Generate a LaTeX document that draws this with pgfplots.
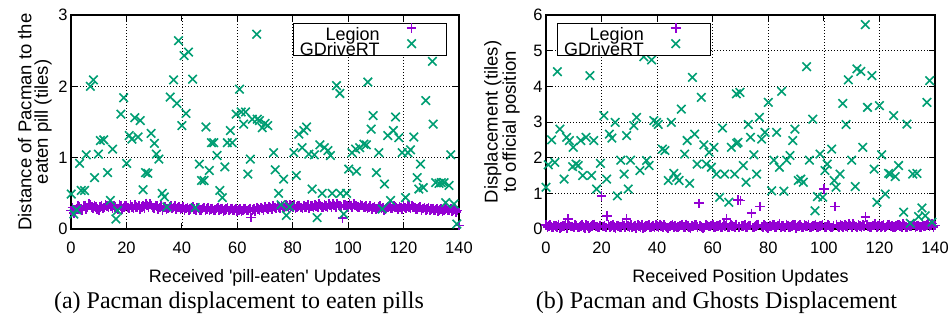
\documentclass[border=0pt]{standalone}
\usepackage{fontspec}
\setmainfont{Liberation Serif}
\newfontfamily\axisfont{Liberation Sans}
\usepackage{pgfplots}
\pgfplotsset{compat=1.18}
\definecolor{legion}{RGB}{148,0,211}
\definecolor{gdrive}{RGB}{0,158,115}
\newcommand\legfont{\axisfont\fontsize{18}{18}\selectfont}
\pgfplotsset{
  gp/.style={
    scale only axis,
    xmin=0, xmax=140,
    xtick={0,20,...,140},
    tick align=inside, tick pos=both,
    major tick length=6pt,
    axis line style={line width=1.2pt},
    every tick/.style={black,line width=0.8pt},
    grid=major,
    grid style={black,line width=0.6pt,dash pattern=on 0.6pt off 2.4pt},
    /pgf/number format/assume math mode=true,
    ticklabel style={font=\axisfont\fontsize{16.5}{17}\selectfont},
    xticklabel style={anchor=base,yshift=-25pt},
    every axis x label/.style={at={(axis description cs:0.5,-0.249)},anchor=base,font=\axisfont\fontsize{18}{18}\selectfont},
    legend plot pos=right,
    legend cell align=right,
    legend image code/.code={\path[draw=none,fill=none] (0pt,0pt) rectangle (56pt,10pt);\draw[#1,only marks] plot coordinates {(28pt,5pt)};},
    legend style={draw=black,line width=0.8pt,inner xsep=7pt,inner ysep=0pt,row sep=-1.4pt,column sep=4pt,
      font=\legfont,
      nodes={inner sep=0pt,text height=14pt,text depth=0pt}},
  },
  legionstyle/.style={only marks,mark=+,mark size=4.8pt,legion,mark options={line width=1.7pt}},
  gdrivestyle/.style={only marks,mark=x,mark size=6pt,gdrive,mark options={line width=1.6pt}},
}
\begin{document}
\begin{tikzpicture}
\useasboundingbox (0,0) rectangle (949pt,320pt);
% ---------------- (a) ----------------
\begin{axis}[gp,
  at={(71pt,91pt)}, anchor=south west,
  width=388pt, height=214pt,
  ymin=0, ymax=3, ytick={0,1,2,3},
  xlabel={Received 'pill-eaten' Updates},
  ylabel={Distance of Pacman to the\\eaten pill (tiles)},
  every axis y label/.style={at={(axis description cs:-0.049,0.5)},rotate=90,anchor=south,align=center,inner sep=0pt,font=\axisfont\fontsize{18.5}{16.5}\selectfont},
  legend style={at={(axis description cs:1,1)},anchor=north east,xshift=-12pt,yshift=-7.7pt},
]
\addplot[legionstyle] coordinates {
(0,0.26)(1,0.22)(2,0.28)(3,0.31)(4,0.27)(5,0.33)(6,0.30)(7,0.34)(8,0.29)(9,0.31)
(10,0.27)(11,0.33)(12,0.30)(13,0.32)(14,0.35)(15,0.29)(16,0.31)(17,0.28)(18,0.32)(19,0.30)
(20,0.33)(21,0.29)(22,0.31)(23,0.34)(24,0.30)(25,0.28)(26,0.32)(27,0.36)(28,0.31)(29,0.33)
(30,0.29)(31,0.32)(32,0.30)(33,0.27)(34,0.31)(35,0.29)(36,0.32)(37,0.30)(38,0.28)(39,0.31)
(40,0.29)(41,0.27)(42,0.30)(43,0.28)(44,0.31)(45,0.26)(46,0.29)(47,0.27)(48,0.30)(49,0.28)
(50,0.26)(51,0.29)(52,0.27)(53,0.30)(54,0.28)(55,0.25)(56,0.28)(57,0.26)(58,0.29)(59,0.27)
(60,0.25)(61,0.28)(62,0.26)(63,0.29)(64,0.27)(65,0.16)(66,0.28)(67,0.30)(68,0.27)(69,0.29)
(70,0.31)(71,0.28)(72,0.30)(73,0.32)(74,0.29)(75,0.31)(76,0.33)(77,0.30)(78,0.32)(79,0.34)
(80,0.31)(81,0.29)(82,0.32)(83,0.30)(84,0.33)(85,0.31)(86,0.29)(87,0.32)(88,0.34)(89,0.31)
(90,0.33)(91,0.30)(92,0.32)(93,0.35)(94,0.31)(95,0.33)(96,0.36)(97,0.32)(98,0.15)(99,0.34)
(100,0.31)(101,0.33)(102,0.35)(103,0.32)(104,0.30)(105,0.33)(106,0.31)(107,0.29)(108,0.32)(109,0.30)
(110,0.28)(111,0.31)(112,0.29)(113,0.27)(114,0.30)(115,0.32)(116,0.29)(117,0.31)(118,0.28)(119,0.30)
(120,0.32)(121,0.29)(122,0.31)(123,0.33)(124,0.30)(125,0.28)(126,0.31)(127,0.29)(128,0.27)(129,0.30)
(130,0.28)(131,0.26)(132,0.29)(133,0.27)(134,0.25)(135,0.28)(136,0.26)(137,0.29)(138,0.27)(139,0.24)
(140,0.05)
(0.5,0.30)(1.5,0.27)(2.5,0.33)(3.5,0.29)(4.5,0.32)(5.5,0.28)(6.5,0.35)(7.5,0.31)(8.5,0.33)(9.5,0.28)
(10.5,0.31)(11.5,0.29)(12.5,0.34)(13.5,0.30)(14.5,0.32)(15.5,0.33)(16.5,0.29)(17.5,0.34)(18.5,0.28)(19.5,0.32)
(20.5,0.30)(21.5,0.34)(22.5,0.29)(23.5,0.31)(24.5,0.33)(25.5,0.31)(26.5,0.29)(27.5,0.33)(28.5,0.35)(29.5,0.30)
(30.5,0.33)(31.5,0.28)(32.5,0.32)(33.5,0.30)(34.5,0.28)(35.5,0.31)(36.5,0.29)(37.5,0.32)(38.5,0.30)(39.5,0.28)
(40.5,0.31)(41.5,0.29)(42.5,0.27)(43.5,0.30)(44.5,0.28)(45.5,0.30)(46.5,0.27)(47.5,0.29)(48.5,0.26)(49.5,0.30)
(50.5,0.28)(51.5,0.26)(52.5,0.29)(53.5,0.27)(54.5,0.29)(55.5,0.27)(56.5,0.30)(57.5,0.28)(58.5,0.26)(59.5,0.29)
(60.5,0.27)(61.5,0.25)(62.5,0.28)(63.5,0.26)(64.5,0.29)(65.5,0.27)(66.5,0.25)(67.5,0.28)(68.5,0.30)(69.5,0.27)
(70.5,0.29)(71.5,0.31)(72.5,0.28)(73.5,0.30)(74.5,0.33)(75.5,0.29)(76.5,0.31)(77.5,0.34)(78.5,0.30)(79.5,0.32)
(80.5,0.34)(81.5,0.31)(82.5,0.33)(83.5,0.29)(84.5,0.31)(85.5,0.34)(86.5,0.32)(87.5,0.30)(88.5,0.32)(89.5,0.35)
(90.5,0.31)(91.5,0.34)(92.5,0.30)(93.5,0.33)(94.5,0.35)(95.5,0.31)(96.5,0.33)(97.5,0.30)(98.5,0.34)(99.5,0.32)
(100.5,0.35)(101.5,0.30)(102.5,0.33)(103.5,0.31)(104.5,0.34)(105.5,0.30)(106.5,0.32)(107.5,0.30)(108.5,0.28)(109.5,0.31)
(110.5,0.29)(111.5,0.32)(112.5,0.30)(113.5,0.28)(114.5,0.31)(115.5,0.29)(116.5,0.32)(117.5,0.30)(118.5,0.31)(119.5,0.28)
(120.5,0.30)(121.5,0.32)(122.5,0.29)(123.5,0.31)(124.5,0.28)(125.5,0.30)(126.5,0.27)(127.5,0.30)(128.5,0.28)(129.5,0.26)
(130.5,0.29)(131.5,0.27)(132.5,0.25)(133.5,0.28)(134.5,0.26)(135.5,0.29)(136.5,0.27)(137.5,0.25)(138.5,0.28)(139.5,0.26)
};
\addlegendentry{Legion}
\addplot[gdrivestyle] coordinates {
(0.1,0.49)(1,0.21)(2,0.27)(3.1,0.92)(3.7,0.54)(4.9,0.54)(5.5,1.04)(7.0,2.0)(8.1,2.09)(8.5,0.72)
(9.9,1.05)(10.6,1.24)(11.8,1.25)(13.2,0.79)(14.2,0.40)(15,1.12)(16.2,0.14)(16.8,0.26)(18,1.61)(19,1.84)
(20.1,0.92)(21,1.31)(22,1.26)(23,1.56)(24.2,1.29)(25,1.52)(26,0.55)(26.9,0.79)(27.7,0.78)(28.9,1.34)
(30.1,1.20)(30.8,1.05)(31.7,0.98)(32.9,0.50)(33.7,0.45)(34.6,0.31)(35.8,1.85)(37,2.09)(38.2,1.76)(38.8,2.64)
(40,1.45)(40.8,2.43)(42.4,2.48)(41.5,1.62)(43.9,2.10)(44.8,0.30)(46.3,0.91)(47.1,0.68)(48,0.68)(48.7,1.43)
(49.9,0.82)(50.7,1.21)(51.5,1.21)(52.7,1.03)(53.7,0.54)(54.6,0.44)(55.5,0.87)(56.4,1.21)(57.5,1.38)(58.2,1.21)
(59.6,1.61)(60.8,1.96)(61.4,1.64)(62.3,1.47)(63,1.64)(63.8,0.77)(64.7,0.98)(65.4,1.54)(67,2.73)(67.2,1.54)
(68,1.52)(69,1.42)(70,1.48)(71,1.45)(73.1,1.07)(73.7,0.83)(74.9,0.50)(75.8,0.34)(76.7,0.70)(77.7,0.19)
(78.9,0.31)(80.4,1.07)(81.3,0.75)(82.2,1.33)(83.4,1.14)(84,1.38)(85,1.43)(85.8,1.05)(87,0.56)(87.8,1.04)
(88.8,0.16)(89.8,1.18)(90.6,0.50)(91.4,1.14)(92.7,1.10)(93.6,1.03)(94.2,0.50)(95.8,2.01)(97,1.90)(97.2,0.50)
(98.4,0.21)(99.4,0.50)(100.2,0.84)(101.4,1.07)(102.7,1.12)(103,0.81)(104.2,1.14)(105.7,1.19)(106.6,1.18)(107.1,2.06)
(108.3,1.40)(109,1.59)(110.2,0.79)(111.1,1.07)(112.3,0.28)(113.1,0.63)(114.3,1.31)(115.3,0.40)(116.3,1.38)(117.1,1.57)
(118.3,1.28)(119.5,1.07)(120.7,0.44)(121.6,1.07)(122.5,1.11)(123.7,1.29)(124.9,0.72)(125.5,0.56)(126.1,0.91)(127.1,0.58)
(128,1.80)(129.2,2.80)(130.4,2.35)(130.7,1.47)(131.6,0.65)(132.8,0.64)(133.6,0.65)(134.6,0.65)(135.2,0.37)(136.4,0.61)
(137,1.04)(138.2,0.35)(139.2,0.07)(140.4,0.93)
};
\addlegendentry{GDriveRT}
\end{axis}
% ---------------- (b) ----------------
\begin{axis}[gp,
  at={(546pt,91pt)}, anchor=south west,
  width=389pt, height=214pt,
  ymin=0, ymax=6, ytick={0,1,...,6},
  xlabel={Received Position Updates},
  ylabel={Displacement (tiles)\\to official position},
  every axis y label/.style={at={(axis description cs:-0.0668,0.5)},rotate=90,anchor=south,align=center,inner sep=0pt,font=\axisfont\fontsize{18.5}{16.5}\selectfont},
  legend style={at={(axis description cs:0,1)},anchor=north west,xshift=10.7pt,yshift=-7.7pt},
]
\addplot[legionstyle] coordinates {
(0,0.12)(1,0.08)(2,0.05)(3,0.10)(4,0.06)(5,0.03)(6,0.09)(7,0.13)(8,0.28)(9,0.07)
(10,0.04)(11,0.10)(12,0.06)(13,0.12)(14,0.03)(15,0.08)(16,0.05)(17,0.11)(18,0.07)(19,0.04)
(20,0.93)(21,0.09)(22,0.37)(23,0.06)(24,0.12)(25,0.03)(26,0.08)(27,0.05)(28,0.10)(29,0.28)
(30,0.06)(31,0.04)(32,0.09)(33,0.12)(34,0.05)(35,0.03)(36,0.08)(37,0.11)(38,0.06)(39,0.04)
(40,0.09)(41,0.13)(42,0.05)(43,0.07)(44,0.03)(45,0.10)(46,0.06)(47,0.04)(48,0.08)(49,0.12)
(50,0.05)(51,0.09)(52,0.03)(53,0.07)(54,0.11)(55,0.72)(56,0.06)(57,0.04)(58,0.10)(59,0.07)
(60,0.13)(61,0.05)(62,0.08)(63,0.04)(64,0.11)(65,0.28)(66,0.06)(67,0.09)(68,0.05)(69,0.81)
(70,0.80)(71,0.08)(72,0.04)(73,0.10)(74,0.44)(75,0.06)(76,0.12)(77,0.63)(78,0.05)(79,0.09)
(80,0.03)(81,0.07)(82,0.11)(83,0.05)(84,0.14)(85,0.08)(86,0.04)(87,0.10)(88,0.06)(89,0.12)
(90,0.03)(91,0.08)(92,0.05)(93,0.11)(94,0.07)(95,0.04)(96,0.09)(97,0.13)(98,0.06)(99,0.10)
(100,1.12)(101,0.05)(102,0.08)(103,0.04)(104,0.63)(105,0.07)(106,0.11)(107,0.05)(108,0.09)(109,0.14)
(110,0.06)(111,0.10)(112,0.04)(113,0.08)(114,0.12)(115,0.33)(116,0.07)(117,0.05)(118,0.10)(119,0.06)
(120,0.13)(121,0.08)(122,0.04)(123,0.11)(124,0.07)(125,0.05)(126,0.09)(127,0.12)(128,0.06)(129,0.10)
(130,0.04)(131,0.08)(132,0.13)(133,0.06)(134,0.10)(135,0.05)(136,0.09)(137,0.12)(138,0.07)(139,0.15)
(140,0.10)
(0.5,0.06)(1.5,0.11)(2.5,0.04)(3.5,0.08)(4.5,0.13)(5.5,0.05)(6.5,0.09)(7.5,0.03)(8.5,0.10)(9.5,0.07)
(10.5,0.12)(11.5,0.04)(12.5,0.09)(13.5,0.06)(14.5,0.11)(15.5,0.03)(16.5,0.08)(17.5,0.13)(18.5,0.05)(19.5,0.10)
(20.5,0.07)(21.5,0.04)(22.5,0.12)(23.5,0.08)(24.5,0.05)(25.5,0.10)(26.5,0.06)(27.5,0.13)(28.5,0.04)(29.5,0.09)
(30.5,0.11)(31.5,0.07)(32.5,0.03)(33.5,0.08)(34.5,0.12)(35.5,0.06)(36.5,0.10)(37.5,0.04)(38.5,0.09)(39.5,0.13)
(40.5,0.05)(41.5,0.08)(42.5,0.11)(43.5,0.04)(44.5,0.07)(45.5,0.12)(46.5,0.09)(47.5,0.05)(48.5,0.10)(49.5,0.06)
(50.5,0.13)(51.5,0.04)(52.5,0.08)(53.5,0.11)(54.5,0.06)(55.5,0.09)(56.5,0.03)(57.5,0.12)(58.5,0.07)(59.5,0.10)
(60.5,0.05)(61.5,0.09)(62.5,0.12)(63.5,0.06)(64.5,0.08)(65.5,0.04)(66.5,0.11)(67.5,0.07)(68.5,0.13)(69.5,0.05)
(70.5,0.09)(71.5,0.12)(72.5,0.06)(73.5,0.10)(74.5,0.04)(75.5,0.08)(76.5,0.13)(77.5,0.07)(78.5,0.11)(79.5,0.05)
(80.5,0.09)(81.5,0.12)(82.5,0.06)(83.5,0.10)(84.5,0.04)(85.5,0.08)(86.5,0.13)(87.5,0.05)(88.5,0.09)(89.5,0.11)
(90.5,0.07)(91.5,0.12)(92.5,0.04)(93.5,0.09)(94.5,0.13)(95.5,0.06)(96.5,0.10)(97.5,0.05)(98.5,0.08)(99.5,0.12)
(100.5,0.06)(101.5,0.11)(102.5,0.04)(103.5,0.09)(104.5,0.13)(105.5,0.05)(106.5,0.08)(107.5,0.12)(108.5,0.06)(109.5,0.10)
(110.5,0.14)(111.5,0.07)(112.5,0.11)(113.5,0.05)(114.5,0.09)(115.5,0.13)(116.5,0.06)(117.5,0.10)(118.5,0.14)(119.5,0.08)
(120.5,0.05)(121.5,0.11)(122.5,0.07)(123.5,0.13)(124.5,0.09)(125.5,0.05)(126.5,0.12)(127.5,0.08)(128.5,0.14)(129.5,0.06)
(130.5,0.11)(131.5,0.07)(132.5,0.13)(133.5,0.09)(134.5,0.05)(135.5,0.12)(136.5,0.08)(137.5,0.14)(138.5,0.10)(139.5,0.06)
};
\addlegendentry{Legion}
\addplot[gdrivestyle] coordinates {
(0,1.17)(0.8,1.80)(2,2.50)(3.2,1.87)(4.1,4.41)(5,2.80)(6.5,1.40)(7.4,2.57)(8.4,2.48)(9.6,1.75)
(9.8,2.29)(10.8,1.82)(11.6,1.78)(12.5,2.48)(13.2,1.50)(14.4,2.57)(15.8,4.30)(16.4,1.50)(17.2,2.48)(18.2,1.12)
(19.6,1.84)(20.8,3.18)(21.8,1.40)(22.8,2.66)(23.7,2.55)(24.9,2.99)(25.7,0.93)(26.9,1.93)(28.1,1.54)(29,2.62)
(29.6,1.12)(30.4,1.93)(31.6,2.90)(32.6,3.13)(33.8,1.64)(35.2,4.83)(36.2,1.92)(37.1,1.78)(38,4.74)(38.8,3.04)
(39.8,2.99)(40.4,2.93)(41.9,2.24)(42.8,2.20)(44,1.36)(45.1,2.99)(46,1.56)(47,1.45)(47.9,1.36)(48.7,3.36)
(49.9,2.10)(50.8,2.48)(51.7,1.28)(52.7,4.25)(53.5,2.66)(54.4,1.82)(55.9,3.69)(56.8,2.36)(57.7,1.82)(58.7,2.15)
(59.5,1.73)(60.4,2.29)(61.3,1.54)(62.5,0.89)(63.5,2.83)(64.3,1.54)(65.8,0.75)(66.7,2.29)(67.9,1.54)(68.5,3.79)
(69.1,2.43)(68.6,2.40)(69.8,3.83)(71,1.78)(72,1.31)(72.8,2.93)(73.6,2.57)(74.8,2.08)(75.8,1.54)(76.8,3.13)
(77.6,2.52)(78.8,2.71)(80,3.55)(81.2,1.07)(82,1.93)(83,2.71)(84,1.73)(84.8,3.86)(85.6,1.06)(86.6,1.93)
(87.8,2.06)(88.8,2.48)(89.6,2.80)(90.8,1.36)(91.7,1.40)(92.6,1.31)(93.8,4.55)(94.8,1.93)(96,3.08)(96.8,0.51)
(97.7,0.91)(98.6,2.10)(99.6,0.89)(100.4,1.64)(101.2,1.82)(102.8,2.24)(103.7,1.36)(104.4,1.17)(105.8,1.54)(106.8,3.52)
(108,2.93)(108.8,4.18)(110,1.93)(111.3,1.19)(111.9,4.49)(113.3,4.42)(114,2.29)(114.9,5.73)(115.7,3.41)(117.3,4.30)
(118.1,1.68)(119.1,0.75)(120,3.46)(120.8,2.08)(122.1,0.98)(123.3,1.56)(123.9,1.54)(125.1,3.18)(125.7,1.47)(126.9,1.78)
(128.7,0.47)(129.9,2.94)(131.1,0.16)(132,1.54)(133.5,1.56)(134.1,0.35)(135.3,0.59)(136.5,0.37)(137.1,3.55)(138.1,4.16)
(138.9,0.19)(140.5,1.06)
};
\addlegendentry{GDriveRT}
\end{axis}
\node[anchor=base,font=\fontsize{24}{26}\selectfont,inner sep=0pt] at (239pt,11pt) {(a) Pacman displacement to eaten pills};
\node[anchor=base,font=\fontsize{24}{26}\selectfont,inner sep=0pt] at (716.5pt,11pt) {(b) Pacman and Ghosts Displacement};
\end{tikzpicture}
\end{document}
